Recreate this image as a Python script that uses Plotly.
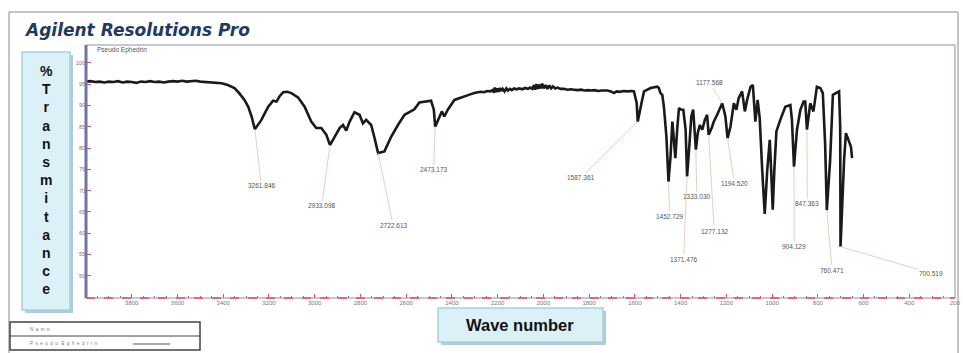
import plotly.graph_objects as go

# ---------------- data ----------------
wavenumber = [
    4000, 3980, 3960, 3940, 3920, 3900, 3880, 3860, 3840, 3820, 3800, 3780, 3760, 3740,
    3720, 3700, 3680, 3660, 3640, 3620, 3600, 3580, 3560, 3540, 3520, 3500, 3480,
    3460, 3440, 3420, 3407, 3380, 3351, 3330, 3307, 3290, 3276, 3261.846, 3248, 3233,
    3218, 3203, 3182, 3167, 3154, 3138, 3120, 3102, 3073, 3044, 3015, 2993, 2971, 2949,
    2933.098, 2913, 2891, 2876, 2862, 2847, 2826, 2804, 2789, 2775, 2753, 2738,
    2722.613, 2695, 2665, 2636, 2607, 2564, 2542, 2491, 2479, 2473.173, 2455, 2444,
    2433, 2418, 2389, 2360, 2340, 2320, 2302, 2290, 2275, 2260, 2245, 2232, 2222,
    2216, 2212, 2207, 2202, 2196, 2190, 2184, 2178, 2170, 2162, 2155, 2146, 2138,
    2128, 2118, 2105, 2092, 2080, 2068, 2058, 2048, 2041, 2036, 2030, 2024, 2018,
    2011, 2005, 1998, 1990, 1982, 1974, 1966, 1958, 1948, 1938, 1925, 1910, 1895,
    1880, 1866, 1850, 1835, 1820, 1805, 1793, 1775, 1760, 1745, 1730, 1720, 1705,
    1691, 1680, 1665, 1650, 1633, 1615, 1604, 1592, 1587.361, 1571, 1560, 1531,
    1502, 1495, 1488, 1480, 1473, 1462, 1452.729, 1444, 1436, 1429, 1423, 1414,
    1407, 1397, 1388, 1378, 1371.476, 1361, 1353, 1345, 1338, 1333.030, 1325, 1316,
    1305, 1294, 1284, 1277.132, 1262, 1255, 1240, 1218, 1204, 1194.520, 1182, 1167,
    1156, 1146, 1131, 1119, 1109, 1094, 1084, 1073, 1063, 1054, 1043, 1032, 1021,
    1010, 1004, 997, 990, 981, 964, 942, 920, 913, 904.129, 891, 876, 862, 855,
    847.363, 833, 819, 804, 789, 778, 768, 760.471, 746, 734, 717, 707, 702,
    700.519, 685, 677, 666, 655, 650,
]
transmittance = [
    95.6, 95.7, 95.5, 95.6, 95.4, 95.6, 95.5, 95.7, 95.4, 95.6, 95.5, 95.3, 95.6, 95.5,
    95.7, 95.5, 95.6, 95.4, 95.6, 95.7, 95.6, 95.8, 95.6, 95.7, 95.8, 95.6, 95.5,
    95.5, 95.4, 95.3, 95.2, 94.8, 94.1, 92.9, 91.3, 89.6, 87.4, 84.4, 85.4, 86.6,
    88.2, 89.7, 91.1, 90.9, 92.1, 93.1, 93.2, 92.9, 91.9, 89.7, 86.2, 84.7, 84.7, 83.1,
    80.7, 82.5, 84.7, 85.4, 84.1, 86.2, 88.4, 87.8, 85.8, 86.6, 85.4, 82.3,
    78.8, 79.2, 82.7, 85.4, 87.8, 89.1, 90.7, 91.1, 89.0, 85.0, 87.0, 88.6,
    87.4, 89.0, 91.3, 91.9, 92.3, 92.6, 92.9, 93.0, 93.2, 93.1, 93.4, 93.3, 93.6,
    93.0, 94.2, 93.1, 94.0, 93.2, 94.1, 93.4, 93.9, 93.3, 94.0, 93.5, 93.9, 93.6,
    94.0, 93.8, 94.0, 93.8, 94.1, 93.9, 94.2, 93.9, 94.8, 93.7, 95.0, 93.9, 94.9,
    94.0, 95.1, 94.0, 94.8, 93.9, 94.7, 94.0, 94.5, 94.0, 94.2, 93.9, 93.9, 93.7,
    93.8, 93.7, 93.6, 93.7, 93.5, 93.6, 93.5, 93.6, 93.4, 93.5, 93.5, 93.5, 93.3,
    92.9, 93.3, 93.2, 93.4, 93.3, 93.4, 93.3, 90.6, 86.2, 90.5, 93.3, 94.1,
    94.4, 94.1, 92.9, 92.5, 89.7, 82.7, 72.1, 78.0, 86.2, 81.9, 77.6, 85.0,
    89.4, 89.0, 89.0, 84.3, 73.3, 81.1, 87.4, 89.0, 84.3, 79.6, 83.5, 85.4,
    84.3, 86.6, 87.8, 83.1, 85.0, 86.2, 87.8, 90.5, 87.4, 82.3, 85.0, 90.5,
    89.0, 91.7, 93.3, 88.6, 91.3, 94.4, 94.8, 86.2, 91.3, 87.0, 74.8, 64.5, 74.8,
    81.9, 74.8, 65.5, 74.8, 83.9, 86.6, 89.7, 90.1, 86.6, 75.6, 84.3, 89.0, 90.9, 90.9,
    84.3, 90.5, 88.6, 94.4, 94.1, 92.9, 81.1, 65.4, 77.2, 92.5, 92.9, 93.3, 85.0,
    56.8, 77.2, 83.5, 81.9, 80.3, 77.6,
]

# labelled peaks
peak_labels = ["3261.846", "2933.098", "2722.613", "2473.173", "1587.361", "1452.729",
               "1371.476", "1333.030", "1277.132", "1194.520", "1177.568", "847.363",
               "904.129", "760.471", "700.519"]
peak_x = [3261.846, 2933.098, 2722.613, 2473.173, 1587.361, 1452.729, 1371.476,
          1333.030, 1277.132, 1194.520, 1218, 847.363, 904.129, 760.471, 700.519]
peak_y = [84.4, 80.7, 78.8, 85.0, 86.2, 72.1, 73.3, 79.6, 83.1, 82.3, 90.5, 84.3,
          75.6, 65.4, 56.8]

y_ticks = [100, 95, 90, 85, 80, 75, 70, 65, 60, 55, 50]
x_ticks = [3800, 3600, 3400, 3200, 3000, 2800, 2600, 2400, 2200, 2000, 1800,
           1600, 1400, 1200, 1000, 800, 600, 400, 200]

# label placement (style / layout, in axis units)
label_pos = [(3233, 71.1), (2969, 66.4), (2657, 61.9), (2480, 74.9), (1836, 73.0),
             (1448, 64.0), (1387, 53.9), (1329, 68.5), (1253, 60.5), (1164, 71.6),
             (1273, 95.3), (846, 66.9), (903, 56.8), (737, 51.3), (305, 50.6)]

W, H = 963, 353
L, R, T, B = 86, 955, 45, 298


def px(x):
    return (x - L) / (R - L)


def py(y):
    return (B - y) / (B - T)


fig = go.Figure()
fig.add_trace(go.Scatter(
    x=wavenumber, y=transmittance, mode="lines",
    line=dict(color="#1a1a1a", width=2.6), hoverinfo="skip", showlegend=False,
))

annotations = []
for lab, xx, yy, (lx, ly) in zip(peak_labels, peak_x, peak_y, label_pos):
    annotations.append(dict(
        x=xx, y=yy, xref="x", yref="y", ax=lx, ay=ly, axref="x", ayref="y",
        text=lab, showarrow=True, arrowhead=0, arrowwidth=1, arrowcolor="#e8cdc6",
        standoff=0, font=dict(family="Liberation Sans, Arial", size=6.5, color="#555"),
    ))

# title
annotations.append(dict(
    x=px(22), y=py(30), xref="paper", yref="paper", xanchor="left", yanchor="middle",
    text="<b><i>Agilent Resolutions Pro</i></b>", showarrow=False,
    font=dict(family="DejaVu Sans", size=17, color="#1f3b63"),
))
# sample name inside the plot
annotations.append(dict(
    x=px(95), y=py(50), xref="paper", yref="paper", xanchor="left", yanchor="middle",
    text="Pseudo Ephedrin", showarrow=False,
    font=dict(family="Liberation Sans, Arial", size=6.5, color="#555"),
))
# y title (stacked letters)
annotations.append(dict(
    x=px(46), y=py(180), xref="paper", yref="paper", xanchor="center", yanchor="middle",
    text="<b>" + "<br>".join(list("%Transmitance")) + "</b>", showarrow=False,
    font=dict(family="Liberation Sans, Arial", size=14, color="#111"),
    align="center",
))
# x title
annotations.append(dict(
    x=px(520), y=py(325), xref="paper", yref="paper", xanchor="center", yanchor="middle",
    text="<b>Wave number</b>", showarrow=False,
    font=dict(family="Liberation Sans, Arial", size=16.5, color="#111"),
))
# legend box text
annotations.append(dict(
    x=px(28), y=py(329), xref="paper", yref="paper", xanchor="left", yanchor="middle",
    text="N  a  m  e", showarrow=False,
    font=dict(family="Liberation Sans, Arial", size=4.5, color="#777"),
))
annotations.append(dict(
    x=px(28), y=py(343), xref="paper", yref="paper", xanchor="left", yanchor="middle",
    text="P  s  e  u  d  o   E  p  h  e  d  r  i  n", showarrow=False,
    font=dict(family="Liberation Sans, Arial", size=4.5, color="#777"),
))

shapes = [
    # outer frame
    dict(type="rect", xref="paper", yref="paper", x0=px(9), x1=px(958), y0=py(365), y1=py(12),
         line=dict(color="#8a8a8a", width=1), layer="below"),
    # plot frame
    dict(type="rect", xref="paper", yref="paper", x0=0, x1=1, y0=0, y1=1,
         line=dict(color="#8c90b4", width=1)),
    # thick left axis
    dict(type="line", xref="paper", yref="paper", x0=0, x1=0, y0=0, y1=1,
         line=dict(color="#6f73a6", width=3)),
    # dashed red bottom axis
    dict(type="line", xref="paper", yref="paper", x0=0, x1=1, y0=0, y1=0,
         line=dict(color="#d9506a", width=1.5, dash="dash")),
    # y title box shadow + box
    dict(type="rect", xref="paper", yref="paper", x0=px(25), x1=px(73), y0=py(313), y1=py(55),
         line=dict(width=0), fillcolor="#b9c9d0", layer="below"),
    dict(type="rect", xref="paper", yref="paper", x0=px(22), x1=px(70), y0=py(310), y1=py(52),
         line=dict(color="#9fd2e3", width=1.5), fillcolor="#dcf0f8"),
    # x title box shadow + box
    dict(type="rect", xref="paper", yref="paper", x0=px(441), x1=px(606), y0=py(345), y1=py(311),
         line=dict(width=0), fillcolor="#b9c9d0", layer="below"),
    dict(type="rect", xref="paper", yref="paper", x0=px(438), x1=px(603), y0=py(342), y1=py(308),
         line=dict(color="#9fd2e3", width=1.5), fillcolor="#dcf0f8"),
    # legend box
    dict(type="rect", xref="paper", yref="paper", x0=px(10), x1=px(200), y0=py(350), y1=py(322),
         line=dict(color="#444", width=1.5), fillcolor="white"),
    dict(type="line", xref="paper", yref="paper", x0=px(10), x1=px(200), y0=py(336), y1=py(336),
         line=dict(color="#444", width=1)),
    dict(type="line", xref="paper", yref="paper", x0=px(133), x1=px(170), y0=py(344), y1=py(344),
         line=dict(color="#555", width=1)),
]

fig.update_layout(
    width=W, height=H, autosize=False,
    margin=dict(l=L, r=W - R, t=T, b=H - B, pad=0, autoexpand=False),
    paper_bgcolor="white", plot_bgcolor="white",
    annotations=annotations, shapes=shapes,
    xaxis=dict(
        range=[4000, 200], tickvals=x_ticks, ticktext=[str(v) for v in x_ticks],
        ticks="inside", ticklen=4, tickcolor="#d9506a", tickwidth=1,
        minor=dict(dtick=50, ticks="inside", ticklen=2, tickcolor="#d9506a"),
        showgrid=False, zeroline=False, showline=False, automargin=False,
        tickfont=dict(family="Liberation Sans, Arial", size=6, color="#777"),
    ),
    yaxis=dict(
        range=[44.76, 104.2], tickvals=y_ticks, ticktext=[str(v) for v in y_ticks],
        ticks="inside", ticklen=5, tickcolor="#d9506a", tickwidth=1.2,
        showgrid=False, zeroline=False, showline=False, automargin=False,
        tickfont=dict(family="Liberation Sans, Arial", size=5.5, color="#777"),
    ),
)

fig.write_html(
    "out.html",
    config={"displayModeBar": False, "responsive": False},
    post_script="document.body.style.margin='0px';document.body.style.overflow='hidden';",
)
